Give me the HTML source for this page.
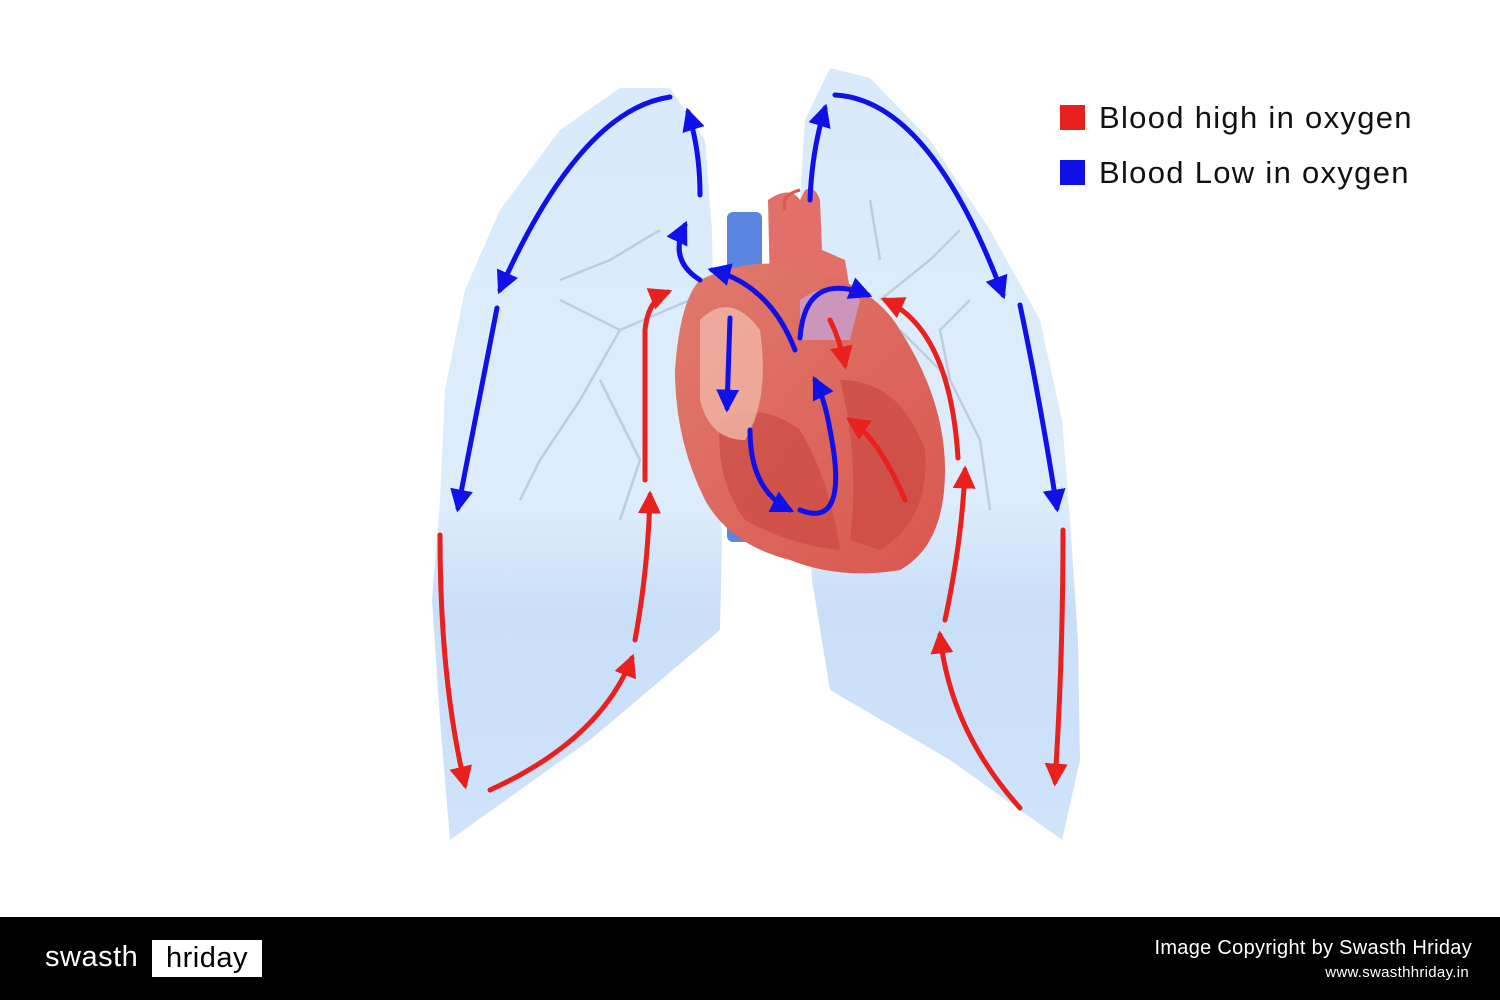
<!DOCTYPE html>
<html><head><meta charset="utf-8"><style>
html,body{margin:0;padding:0;width:1500px;height:1000px;overflow:hidden;background:#fff;font-family:"Liberation Sans",sans-serif;}
#wrap{position:relative;width:1500px;height:1000px;}
.footer{position:absolute;left:0;top:917px;width:1500px;height:83px;background:#000;}
</style></head><body><div id="wrap">
<svg width="1500" height="1000" style="position:absolute;left:0;top:0">
<defs>
<linearGradient id="lg" x1="0" y1="0" x2="0" y2="1">
<stop offset="0" stop-color="#d6e9fb"/><stop offset="0.55" stop-color="#dcecfb"/><stop offset="0.7" stop-color="#c6ddf8"/><stop offset="1" stop-color="#cde2fa"/></linearGradient>
<linearGradient id="hg" x1="0" y1="0" x2="1" y2="1">
<stop offset="0" stop-color="#e07a6e"/><stop offset="1" stop-color="#d9574e"/></linearGradient>
<marker id="rb" viewBox="0 0 10 10" refX="8" refY="5" markerWidth="4.6" markerHeight="4.6" orient="auto"><path d="M0,0 L10,5 L0,10 z" fill="#1010e8"/></marker>
<marker id="rr" viewBox="0 0 10 10" refX="8" refY="5" markerWidth="4.6" markerHeight="4.6" orient="auto"><path d="M0,0 L10,5 L0,10 z" fill="#e8201e"/></marker>
</defs>
<path d="M670,88 L620,88 L560,130 L500,210 L465,290 L445,390 L440,500 L432,600 L440,720 L450,840 L590,740 L720,630 L722,540 L715,400 L712,230 L705,140 Z" fill="url(#lg)" opacity="0.95"/>
<path d="M830,68 L870,78 L930,140 L990,230 L1040,320 L1062,420 L1070,520 L1078,640 L1080,760 L1062,840 L950,760 L830,690 L812,580 L805,400 L800,200 L805,120 Z" fill="url(#lg)" opacity="0.95"/>
<g stroke="#b7c6d8" stroke-width="2.5" fill="none" opacity="0.8">
<path d="M690,300 L620,330 L580,400 L540,460 L520,500"/><path d="M620,330 L560,300"/><path d="M600,380 L640,460 L620,520"/><path d="M660,230 L610,260 L560,280"/>
<path d="M880,300 L930,260 L960,230"/><path d="M900,330 L950,380 L980,440 L990,510"/><path d="M870,200 L880,260"/><path d="M950,380 L940,330 L970,300"/>
</g>
<rect x="727" y="212" width="35" height="330" rx="6" fill="#5a86e0"/>
<path d="M768,200 Q790,185 800,200 L805,190 Q815,185 820,200 L822,250 L845,260 L850,290 L800,300 L770,290 Z" fill="#e07069"/>
<path d="M785,210 Q780,195 800,190" stroke="#d85a52" stroke-width="3" fill="none"/>
<path d="M700,280 Q760,250 830,275 Q880,295 900,330 Q945,400 945,470 Q945,545 900,570 Q840,580 790,560 Q730,545 705,500 Q675,440 675,370 Q680,300 700,280 Z" fill="url(#hg)"/>
<path d="M720,420 Q760,400 800,430 Q830,480 840,550 Q790,545 745,520 Q715,480 720,420 Z" fill="#c8463f" opacity="0.6"/>
<path d="M840,380 Q900,380 925,450 Q930,520 880,550 L850,540 Q860,460 840,380 Z" fill="#c8463f" opacity="0.6"/>
<path d="M700,320 Q730,290 760,330 Q770,400 745,440 Q710,440 700,400 Z" fill="#f0b6a8" opacity="0.8"/>
<path d="M800,300 Q835,275 860,300 L850,340 L800,340 Z" fill="#c4a8e0" opacity="0.7"/>
<g fill="none" stroke-width="5" stroke-linecap="round">
<g stroke="#1010e8" marker-end="url(#rb)">
<path d="M670,97 Q580,110 500,290"/>
<path d="M497,308 L458,508"/>
<path d="M700,195 Q700,150 688,112"/>
<path d="M700,280 Q668,260 685,225"/>
<path d="M810,200 Q812,150 825,108"/>
<path d="M835,95 Q930,100 1003,295"/>
<path d="M1020,305 Q1040,400 1057,508"/>
<path d="M795,350 Q770,285 712,270"/>
<path d="M800,338 Q805,270 868,295"/>
<path d="M730,318 L727,408"/>
<path d="M750,430 Q750,490 790,510"/>
<path d="M800,510 Q850,530 830,430 Q825,400 815,380"/>
</g>
<g stroke="#e8201e" marker-end="url(#rr)">
<path d="M440,535 Q440,680 465,785"/>
<path d="M490,790 Q600,740 632,658"/>
<path d="M635,640 Q648,570 650,495"/>
<path d="M645,480 L645,330 Q648,300 668,292"/>
<path d="M1063,530 Q1063,660 1055,782"/>
<path d="M1020,808 Q950,730 940,635"/>
<path d="M945,620 Q962,540 965,470"/>
<path d="M958,458 Q950,330 885,300"/>
<path d="M830,320 Q840,340 845,365"/>
<path d="M905,500 Q880,440 850,420"/>
</g>
</g>
<rect x="1060" y="105" width="25" height="25" fill="#e8201e"/>
<rect x="1060" y="160" width="25" height="25" fill="#1010e8"/>
<text x="1099" y="128" font-family="Liberation Sans, sans-serif" font-size="31" letter-spacing="1.3" fill="#111">Blood high in oxygen</text>
<text x="1099" y="183" font-family="Liberation Sans, sans-serif" font-size="31" letter-spacing="1.3" fill="#111">Blood Low in oxygen</text>
</svg>
<div class="footer">
<div style="position:absolute;left:45px;top:24px;color:#fff;font-size:29px;letter-spacing:0.5px;">swasth</div>
<div style="position:absolute;left:152px;top:23px;width:110px;height:37px;background:#fff;color:#000;font-size:29px;text-align:center;line-height:37px;letter-spacing:0.5px;">hriday</div>
<div style="position:absolute;right:28px;top:20px;color:#fff;font-size:20px;letter-spacing:0.3px;">Image Copyright by Swasth Hriday</div>
<div style="position:absolute;right:31px;top:47px;color:#fff;font-size:15px;letter-spacing:0.3px;">www.swasthhriday.in</div>
</div>
</div></body></html>
